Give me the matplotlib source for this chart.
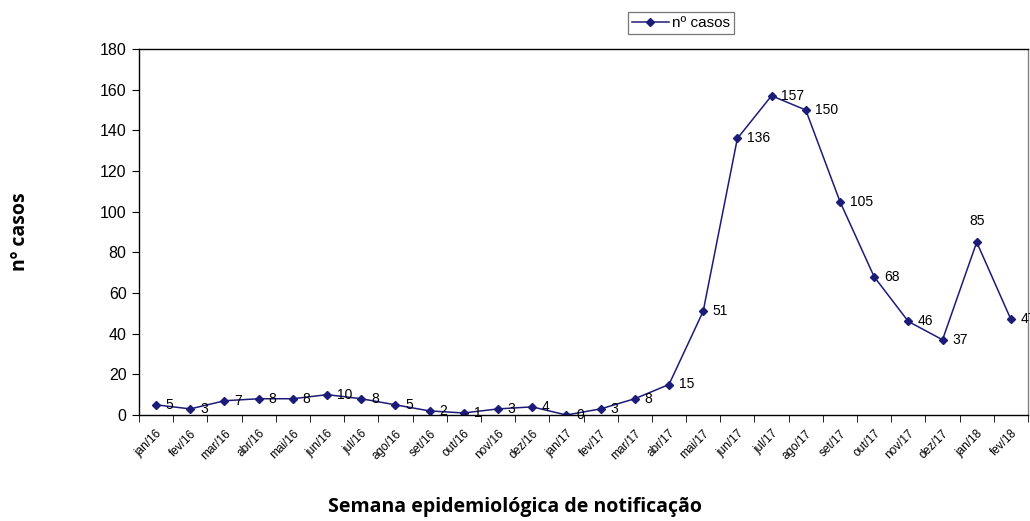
import numpy as np
import matplotlib.pyplot as plt

meses = ["jan/16", "fev/16", "mar/16", "abr/16", "mai/16", "jun/16", "jul/16",
         "ago/16", "set/16", "out/16", "nov/16", "dez/16", "jan/17", "fev/17",
         "mar/17", "abr/17", "mai/17", "jun/17", "jul/17", "ago/17", "set/17",
         "out/17", "nov/17", "dez/17", "jan/18", "fev/18"]
casos = [5, 3, 7, 8, 8, 10, 8, 5, 2, 1, 3, 4, 0, 3, 8, 15, 51, 136, 157,
         150, 105, 68, 46, 37, 85, 47]

plt.rcParams['font.family'] = ['Liberation Sans', 'DejaVu Sans']
cor = "#1c1c78"

fig = plt.figure(figsize=(10.30, 5.21), dpi=100)
ax = fig.add_axes([139 / 1030, 1 - 415 / 521, (1028 - 139) / 1030, (415 - 49) / 521])

x = np.arange(len(casos)) + 0.5
ax.plot(x, casos, color=cor, lw=1.1, marker="D", ms=4.5, mfc=cor, mec=cor,
        label="nº casos")

for xi, yi in zip(x, casos):
    if yi == 85:
        ax.annotate(str(yi), (xi, yi), xytext=(0, 10), textcoords="offset points",
                    ha="center", va="bottom", fontsize=10, annotation_clip=False)
    else:
        ax.annotate(str(yi), (xi, yi), xytext=(7, 0), textcoords="offset points",
                    ha="left", va="center", fontsize=10, annotation_clip=False)

ax.set_xlim(0, len(casos))
ax.set_ylim(0, 180)
ax.set_yticks(np.arange(0, 181, 20))
ax.tick_params(axis="y", labelsize=11.5, length=5, direction="out", pad=4)

ax.set_xticks(x)
ax.set_xticklabels(meses, rotation=45, ha="right", rotation_mode="anchor", fontsize=8.5)
ax.set_xticks(np.arange(0, len(casos) + 1), minor=True)
ax.tick_params(axis="x", which="major", length=0, pad=9)
ax.tick_params(axis="x", which="minor", length=5, direction="out")

for s in ax.spines.values():
    s.set_linewidth(1.0)
    s.set_color("black")
ax.spines["right"].set_color("#808080")

fig.text(20 / 1030, 1 - 232 / 521, "nº casos", rotation=90, ha="center", va="center",
         fontsize=14, fontweight="bold", family="Open Sans")
fig.text(515 / 1030, 1 - 507 / 521, "Semana epidemiológica de notificação",
         ha="center", va="center", fontsize=14, fontweight="bold", family="Open Sans")

leg = ax.legend(loc="center", bbox_to_anchor=(681 / 1030, 1 - 23 / 521),
                bbox_transform=fig.transFigure, fontsize=11, frameon=True,
                fancybox=False, edgecolor="#555555", handlelength=2.4,
                borderpad=0.25, handletextpad=0.2, borderaxespad=0)
leg.get_frame().set_linewidth(0.9)

fig.savefig("out.png", dpi=100)
